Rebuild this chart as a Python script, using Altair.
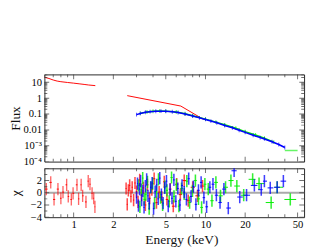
import altair as alt
import numpy as np
import pandas as pd

# ---------------- data ----------------
# model curve (red) in top panel
red_model_lo_e = [0.6, 0.65, 0.7, 0.75, 0.8, 0.9, 1.0, 1.1, 1.2, 1.3, 1.46]
red_model_lo_f = [21, 17.5, 14, 12, 11, 9.8, 8.9, 8.1, 7.4, 6.8, 6.2]
red_model_hi_e = [2.55, 6.5, 9.7]
red_model_hi_f = [1.45, 0.32, 0.045]

# unfolded spectra (top panel)
blue_flux_e = [3.0, 3.2, 3.5, 3.8, 4.2, 4.6, 5.0, 5.6, 6.2, 7.0, 8.0, 9.0, 10.0, 11.0, 12.2,
               14.0, 16.0, 18.0, 20.0, 23.0, 26.0, 28.0, 32.0, 36.0, 40.0]
blue_flux = [0.092, 0.11, 0.13, 0.142, 0.15, 0.152, 0.15, 0.14, 0.125, 0.10, 0.075, 0.058,
             0.046, 0.036, 0.028, 0.019, 0.0135, 0.0095, 0.0070, 0.0046, 0.0033, 0.0027,
             0.0018, 0.0012, 0.00078]
green_flux_e = [3.2, 3.6, 4.0, 4.5, 5.0, 6.0, 7.0, 8.0, 10.0, 12.0, 14.0, 17.0, 20.0, 24.0, 28.0, 33.0]
green_flux = [0.11, 0.135, 0.15, 0.155, 0.153, 0.135, 0.105, 0.078, 0.048, 0.031, 0.021,
              0.013, 0.0078, 0.0048, 0.0030, 0.0017]
green_last_lo, green_last_hi, green_last_f = [40.0], [50.0], [0.0005]

# residuals (bottom panel)
red_lo_e = [0.62, 0.67, 0.71, 0.76, 0.80, 0.83, 0.885, 0.91, 0.96, 0.99, 1.06, 1.09, 1.14, 1.17,
            1.24, 1.29, 1.33, 1.38, 1.42, 1.45]
red_lo_chi = [0.6, 1.7, -1.1, 0.6, -0.9, 0.1, 1.3, -0.6, -1.1, -0.1, 1.3, -1.0, 1.3, -0.5,
              -1.5, 1.9, 1.4, -0.1, -0.9, -2.3]
red_mid_e = [2.50, 2.55, 2.60, 2.66, 2.72, 2.78, 2.85, 2.92, 3.00, 3.08, 3.17, 3.27, 3.38, 3.50,
             3.63, 3.77, 3.92, 4.08, 4.25, 4.45, 4.65, 4.87, 5.10, 5.40, 5.70, 6.05, 6.45, 6.90,
             7.40, 8.00, 8.70, 9.50]
red_mid_chi = [0.7, -1.9, 0.4, 1.2, -0.6, 0.9, -1.2, 1.6, 0.2, -1.5, 2.1, -0.4, 0.8, -2.0, 1.3,
               -0.9, 0.5, 2.3, -1.6, 0.1, -0.7, 1.8, -1.1, 0.6, -2.2, 1.4, -0.3, 2.0, -1.3, 0.9,
               -0.5, 1.1]
blue_e = [3.00, 3.05, 3.10, 3.16, 3.22, 3.28, 3.35, 3.42,
          3.50, 3.58, 3.66, 3.75, 3.84, 3.94, 4.04, 4.15,
          4.26, 4.38, 4.50, 4.63, 4.77, 4.91, 5.06, 5.22,
          5.39, 5.57, 5.76, 5.96, 6.17, 6.40, 6.64, 6.90,
          7.17, 7.46, 7.77, 8.10, 8.46, 8.85, 9.27, 9.73,
          10.2, 10.8, 11.4, 12.1, 12.9, 13.8, 14.9, 16.5,
          18.2, 20.5, 23.5, 26.5, 28.0, 31.0, 35.0, 39.0]
blue_chi = [-0.8, 1.5, -2.1, 0.6, 1.9, -1.2, 0.3, -2.4,
            1.1, 2.2, -0.5, -1.8, 0.9, 1.6, -2.6, 0.2,
            1.3, -1.0, 2.4, -0.3, -1.7, 0.8, 1.9, -2.2,
            0.5, -0.9, 2.1, -1.4, 0.7, -2.0, 1.2, 0.1,
            -1.1, 2.3, -0.6, 1.0, -1.9, 0.4, 1.7, -0.8,
            -2.3, 0.9, 1.4, -0.4, -1.6, 0.6, -2.5, 3.6,
            -0.7, -0.4, 1.2, 0.5, 1.9, 0.8, 0.9, 1.9]
green_e = [3.10, 3.18, 3.26, 3.34, 3.43, 3.53, 3.63, 3.74,
           3.86, 3.98, 4.11, 4.25, 4.40, 4.56, 4.73, 4.91,
           5.10, 5.31, 5.53, 5.77, 6.02, 6.29, 6.58, 6.89,
           7.22, 7.58, 7.97, 8.39, 8.85, 9.35, 9.90, 10.5,
           11.2, 12.0, 13.0, 14.2, 15.6, 17.3, 19.5, 22.8,
           25.5, 31.5, 35.0, 44.0]
green_chi = [1.2, -2.3, 0.5, 2.4, -1.1, -0.3, 1.8, -2.6,
             0.9, 1.5, -1.7, 0.2, 2.2, -0.8, -2.0, 1.0,
             0.4, -1.4, 2.5, -0.6, 1.3, -2.2, 0.7, -0.2,
             1.9, -1.6, 0.3, 2.0, -1.0, -2.4, 1.4, 0.6,
             -1.3, 1.7, -0.5, 0.9, 2.0, 1.1, -0.4, 2.2,
             1.5, -1.6, 0.9, -1.1]

# axis ticks / labels
x_major = [1, 2, 5, 10, 20, 50]
x_minor = [0.6, 0.7, 0.8, 0.9, 3, 4, 6, 7, 8, 9, 30, 40]
y1_label_vals = [1e-4, 1e-3, 0.01, 0.1, 1, 10]
y1_label_text = ["10⁻⁴", "10⁻³", "0.01", "0.1", "1", "10"]
y1_minor = [m * d for d in [1e-4, 1e-3, 1e-2, 1e-1, 1, 10] for m in range(2, 10) if m * d < 31]
y2_major = [-4, -2, 0, 2, 4]
y2_minor = [-3, -1, 1, 3]
y2_label_vals = [-4, -2, 0, 2]

# ---------------- layout ----------------
W, H1, H2 = 271, 91, 51
FONT = "Liberation Serif"
TICK = "#333333"
RED, GREEN, BLUE = "#ff0000", "#00ee00", "#0000ff"
LBL = dict(labelFont=FONT, labelFontSize=11, labelFontWeight="normal", labelColor="black",
           titleFont=FONT, titleFontSize=14, titleFontWeight="normal", titleColor="#111111",
           labelOverlap=False, labelFlush=False, grid=False, domain=False, ticks=False)

xscale = alt.Scale(type="log", domain=[0.6, 56], nice=False)
y1scale = alt.Scale(type="log", domain=[1e-4, 31.6], nice=False)
y2scale = alt.Scale(domain=[-4, 4], nice=False)

expr = "".join(f"abs(log(datum.value) - log({v})) < 0.1 ? '{t}' : " for v, t in zip(y1_label_vals, y1_label_text)) + "''"

ax_x_top = alt.Axis(labels=False, ticks=False, domain=False, grid=False, title=None)
ax_x_bot = alt.Axis(values=x_major, format="~g", title="Energy (keV)", labelPadding=2,
                    titlePadding=3, titleX=143, titleAlign="center", **LBL)
ax_y_top = alt.Axis(values=y1_label_vals, labelExpr=expr, title="Flux", labelPadding=3,
                    titleX=-23, titleY=H1 / 2, titleBaseline="bottom", titleAlign="center", **LBL)
ax_y_bot = alt.Axis(values=y2_label_vals, labelExpr="replace(datum.label, '-', '−')",
                    title="χ", labelPadding=3, titleX=-23, titleY=H2 / 2,
                    titleBaseline="bottom", titleAlign="center", **LBL)


def tick_layers(xmaj, xmin, ymaj, ymin, yscale, yax, xax, height):
    dfx = pd.DataFrame({"v": list(xmaj) + list(xmin), "s": [10] * len(xmaj) + [6] * len(xmin)})
    dfy = pd.DataFrame({"v": list(ymaj) + list(ymin), "s": [10] * len(ymaj) + [6] * len(ymin)})
    out = []
    for yv in [0, height]:
        out.append(alt.Chart(dfx).mark_tick(orient="vertical", clip=True, color=TICK, thickness=1).encode(
            x=alt.X("v:Q", scale=xscale, axis=xax), y=alt.value(yv), size=alt.Size("s:Q", scale=None)))
    for xv in [0, W]:
        out.append(alt.Chart(dfy).mark_tick(orient="horizontal", clip=True, color=TICK, thickness=1).encode(
            y=alt.Y("v:Q", scale=yscale, axis=yax), x=alt.value(xv), size=alt.Size("s:Q", scale=None)))
    return out


def line(e, f, color, sw):
    df = pd.DataFrame({"e": e, "f": f})
    return alt.Chart(df).mark_line(color=color, strokeWidth=sw, clip=True).encode(
        x=alt.X("e:Q", scale=xscale, axis=ax_x_top), y=alt.Y("f:Q", scale=y1scale, axis=ax_y_top))


def points_top(e, f, color):
    df = pd.DataFrame({"e": e, "f": f})
    return alt.Chart(df).mark_tick(orient="vertical", color=color, size=4, thickness=1, clip=True).encode(
        x=alt.X("e:Q", scale=xscale, axis=ax_x_top), y=alt.Y("f:Q", scale=y1scale, axis=ax_y_top))


top_layers = [
    line(red_model_lo_e, red_model_lo_f, RED, 1),
    line(red_model_hi_e, red_model_hi_f, RED, 1),
    line(green_flux_e, green_flux, GREEN, 1.5),
    points_top(green_flux_e, green_flux, GREEN),
    alt.Chart(pd.DataFrame({"a": green_last_lo, "b": green_last_hi, "f": green_last_f}))
    .mark_rule(color=GREEN, strokeWidth=1.5, opacity=0.6, clip=True)
    .encode(x=alt.X("a:Q", scale=xscale, axis=ax_x_top), x2="b:Q",
            y=alt.Y("f:Q", scale=y1scale, axis=ax_y_top)),
    line(blue_flux_e, blue_flux, BLUE, 1.6),
    points_top(blue_flux_e, blue_flux, BLUE),
] + tick_layers(x_major, x_minor, y1_label_vals, y1_minor, y1scale, ax_y_top, ax_x_top, H1)

top = alt.layer(*top_layers).properties(width=W, height=H1)


def resid(e, chi, color, shrink, op, sw):
    e = np.asarray(e, float)
    mids = np.sqrt(e[1:] * e[:-1])
    lo = np.concatenate([[e[0] ** 2 / mids[0]], mids])
    hi = np.concatenate([mids, [e[-1] ** 2 / mids[-1]]])
    lo = e * (lo / e) ** shrink
    hi = e * (hi / e) ** shrink
    df = pd.DataFrame({"e": e, "chi": chi, "lo": np.asarray(chi) - 1, "hi": np.asarray(chi) + 1,
                       "elo": lo, "ehi": hi})
    v = alt.Chart(df).mark_rule(color=color, strokeWidth=sw, opacity=op, clip=True).encode(
        x=alt.X("e:Q", scale=xscale, axis=ax_x_bot),
        y=alt.Y("lo:Q", scale=y2scale, axis=ax_y_bot), y2="hi:Q")
    h = alt.Chart(df).mark_rule(color=color, strokeWidth=1, clip=True).encode(
        x=alt.X("elo:Q", scale=xscale, axis=ax_x_bot), x2="ehi:Q",
        y=alt.Y("chi:Q", scale=y2scale, axis=ax_y_bot))
    return [v, h]


zero = alt.Chart(pd.DataFrame({"z": [0]})).mark_rule(color="#aaaaaa", strokeWidth=2).encode(
    y=alt.Y("z:Q", scale=y2scale, axis=ax_y_bot))

bot_layers = ([zero]
              + resid(red_lo_e, red_lo_chi, RED, 0.6, 0.6, 1.4)
              + resid(red_mid_e, red_mid_chi, RED, 0.9, 0.7, 1.6)
              + resid(green_e, green_chi, GREEN, 0.9, 0.8, 1.6)
              + resid(blue_e, blue_chi, BLUE, 0.9, 0.75, 1.6)
              + tick_layers(x_major, x_minor, y2_major, y2_minor, y2scale, ax_y_bot, ax_x_bot, H2))

bot = alt.layer(*bot_layers).properties(width=W, height=H2)

chart = (
    alt.vconcat(top, bot, spacing=0)
    .properties(padding={"left": 0, "top": 63, "right": 0, "bottom": 0}, background="white")
    .configure_view(stroke="#222222", strokeWidth=1)
)

chart.save("out.html", embed_options={"renderer": "svg", "actions": False})
